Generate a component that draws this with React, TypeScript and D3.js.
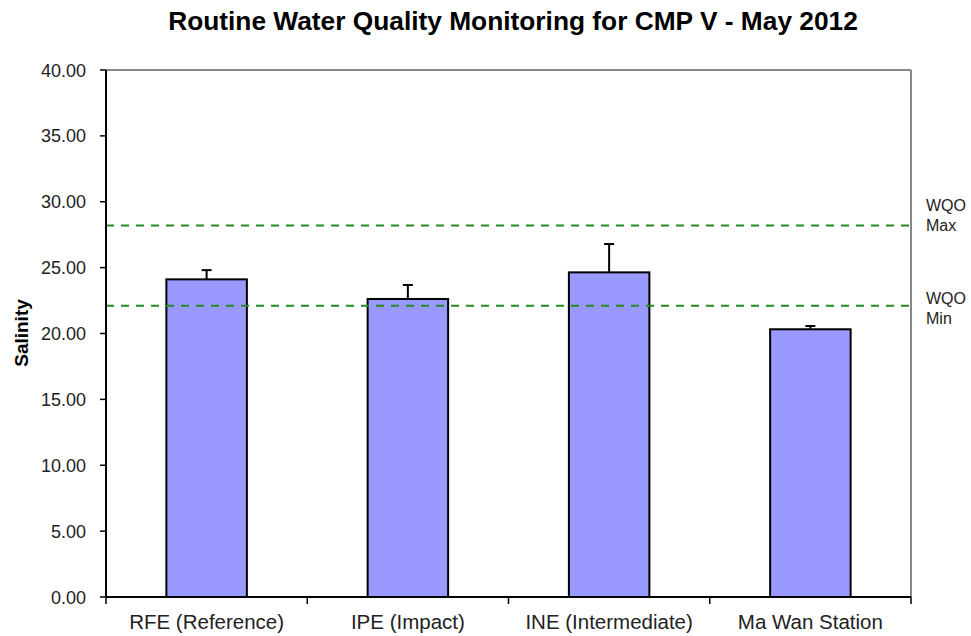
import React from "react";
import * as d3 from "d3";

const categories = ["RFE (Reference)", "IPE (Impact)", "INE (Intermediate)", "Ma Wan Station"];
const salinity = [24.11, 22.62, 24.64, 20.32];
const errors = [0.7, 1.06, 2.15, 0.25];
const yTicks = [0, 5, 10, 15, 20, 25, 30, 35, 40];
const wqoMax = 28.2;
const wqoMin = 22.1;
const title = "Routine Water Quality Monitoring for CMP V - May 2012";

const W = 971, H = 636;
const left = 106, right = 911, top = 70, bottom = 597;
const font = "Arial, 'Liberation Sans', sans-serif";

export default function App() {
  const x = d3.scaleBand().domain(categories).range([left, right]).paddingInner(0).paddingOuter(0);
  const y = d3.scaleLinear().domain([0, 40]).range([bottom, top]);
  const bw = x.bandwidth() * 0.4;
  const boundaries = [left, ...categories.map((c) => (x(c) as number) + x.bandwidth())];
  return (
    <svg width={W} height={H} style={{ position: "absolute", left: 0, top: 0, background: "#fff" }}>
      <rect x={0} y={0} width={W} height={H} fill="#fff" />
      <text x={513} y={30} textAnchor="middle" fontFamily={font} fontWeight="bold" fontSize={26.3} fill="#000">{title}</text>
      {/* frame */}
      <line x1={left} y1={top} x2={right} y2={top} stroke="#888" strokeWidth={2} />
      <line x1={right} y1={top} x2={right} y2={bottom} stroke="#888" strokeWidth={2} />
      {/* bars */}
      {categories.map((c, i) => {
        const cx = (x(c) as number) + x.bandwidth() / 2;
        const yv = y(salinity[i]);
        const ye = y(salinity[i] + errors[i]);
        return (
          <g key={c}>
            <rect x={cx - bw / 2} y={yv} width={bw} height={bottom - yv} fill="#9999FF" stroke="#000" strokeWidth={2} />
            <line x1={cx} y1={yv} x2={cx} y2={ye} stroke="#000" strokeWidth={2} />
            <line x1={cx - 5} y1={ye} x2={cx + 5} y2={ye} stroke="#000" strokeWidth={2} />
          </g>
        );
      })}
      {/* WQO lines */}
      {[wqoMax, wqoMin].map((v, i) => (
        <line key={i} x1={left} x2={right} y1={y(v)} y2={y(v)} stroke="#228B22" strokeWidth={2} strokeDasharray="8,7" />
      ))}
      <text fontFamily={font} fontSize={16} fill="#222">
        <tspan x={926} y={y(wqoMax) - 14}>WQO</tspan>
        <tspan x={926} y={y(wqoMax) + 6}>Max</tspan>
        <tspan x={926} y={y(wqoMin) - 2}>WQO</tspan>
        <tspan x={926} y={y(wqoMin) + 18}>Min</tspan>
      </text>
      {/* axes */}
      <line x1={left} y1={top} x2={left} y2={bottom} stroke="#000" strokeWidth={2} />
      <line x1={left} y1={bottom} x2={right} y2={bottom} stroke="#000" strokeWidth={2} />
      {yTicks.map((t) => (
        <g key={t}>
          <line x1={left - 6} x2={left} y1={y(t)} y2={y(t)} stroke="#000" strokeWidth={1.5} />
          <text x={86} y={y(t) + 6.5} textAnchor="end" fontFamily={font} fontSize={18} fill="#222">{t.toFixed(2)}</text>
        </g>
      ))}
      {boundaries.map((b, i) => (
        <line key={i} x1={b} x2={b} y1={bottom} y2={bottom + 7} stroke="#000" strokeWidth={1.5} />
      ))}
      {categories.map((c) => (
        <text key={c} x={(x(c) as number) + x.bandwidth() / 2} y={629} textAnchor="middle" fontFamily={font} fontSize={20.5} fill="#222">{c}</text>
      ))}
      <text transform={`translate(28,333) rotate(-90)`} textAnchor="middle" fontFamily={font} fontWeight="bold" fontSize={19} fill="#000">Salinity</text>
    </svg>
  );
}
